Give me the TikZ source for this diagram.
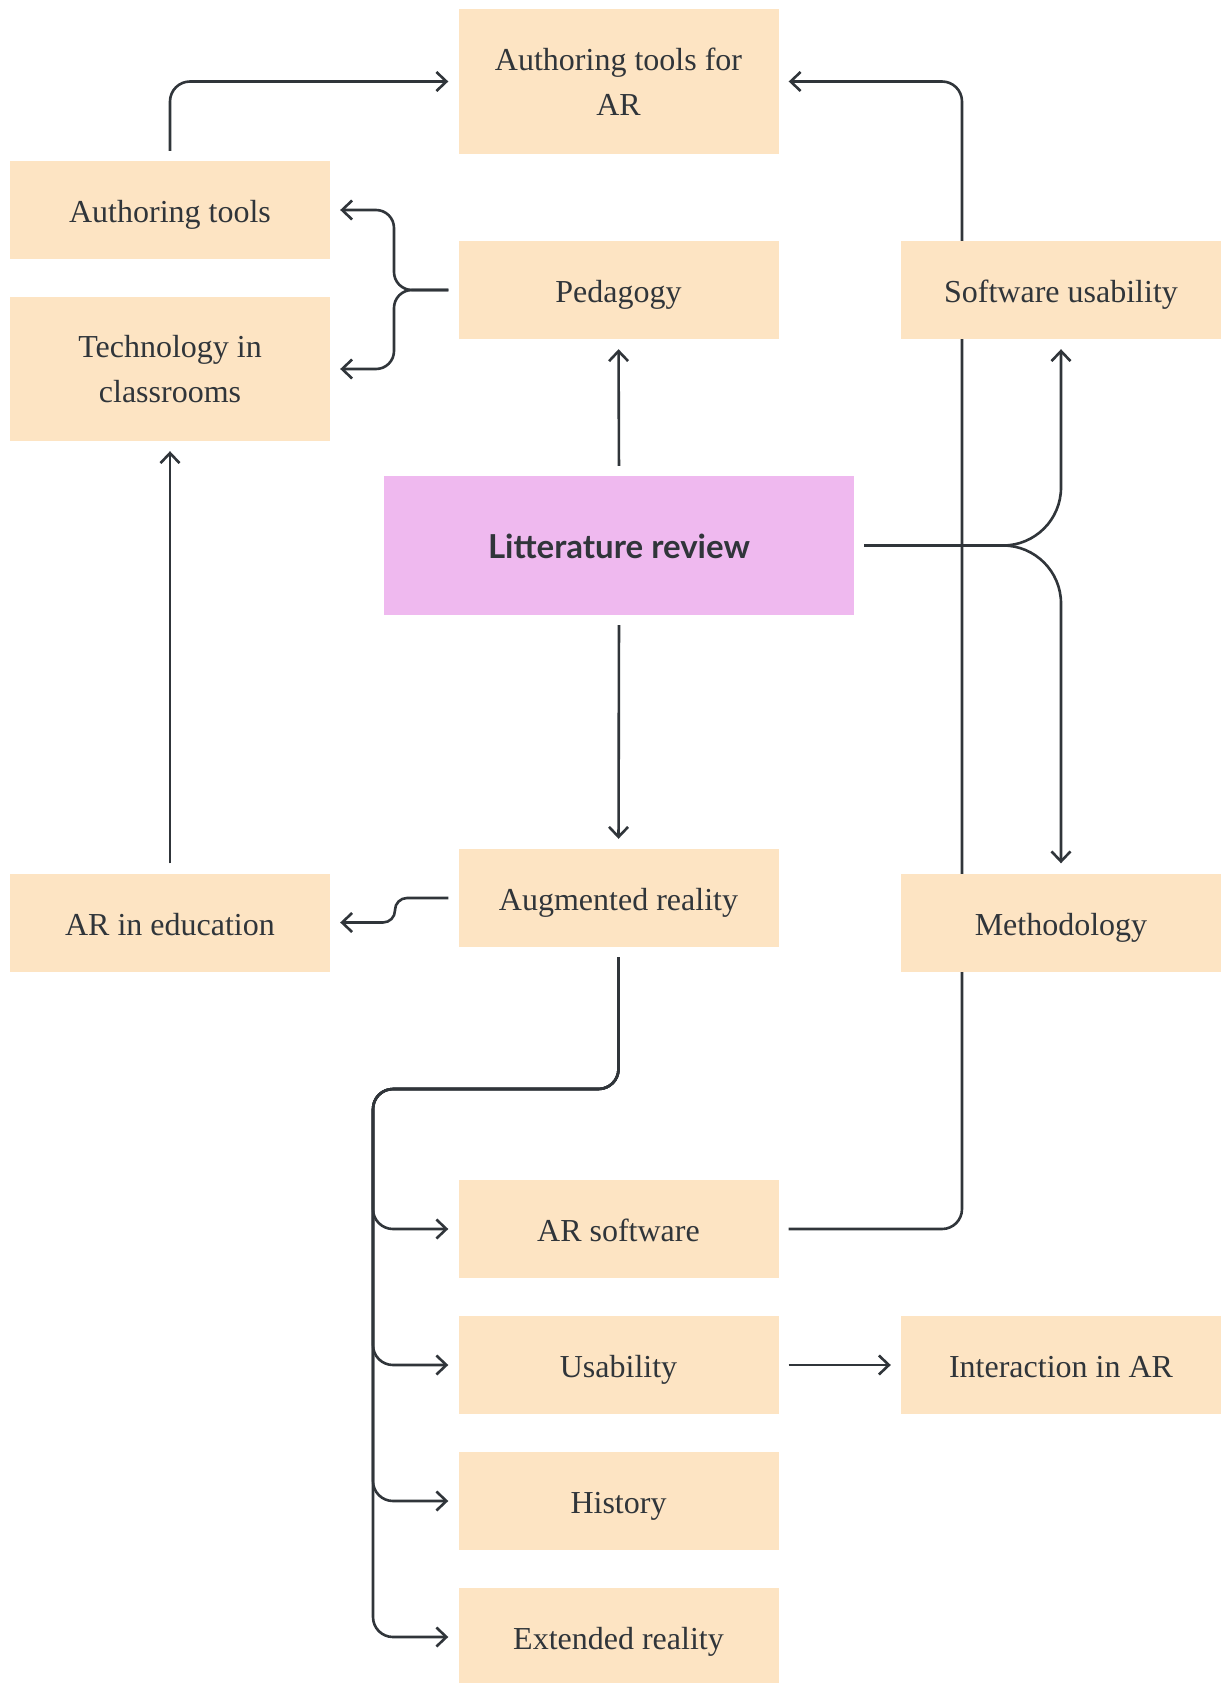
\documentclass[tikz,border=0pt]{standalone}
\usepackage{fontspec}
\setmainfont{Liberation Serif}
\newfontfamily\reviewfont{Lato}
\usetikzlibrary{arrows.meta,backgrounds}

\definecolor{peach}{HTML}{FDE4C3}
\definecolor{orchid}{HTML}{EFB9EF}
\definecolor{ink}{HTML}{30353A}

\tikzset{
  topic/.style={fill=peach, text=ink, minimum width=320pt, minimum height=98pt,
    align=center, inner sep=0pt, text height=25pt, text depth=0pt,
    font=\fontsize{32}{45}\selectfont},
  twoline/.style={text height={}, text depth={}},
  review/.style={fill=orchid, text=ink, minimum width=470pt, minimum height=139pt,
    inner sep=0pt, text height=25pt, text depth=0pt,
    font=\reviewfont\bfseries\fontsize{33}{40}\selectfont},
  link/.style={draw=ink, line width=2.6pt, -{Straight Barb[length=10pt,width=19pt]},
    shorten >=10pt, shorten <=10pt, rounded corners=20pt},
}

\begin{document}
\begin{tikzpicture}[x=1pt, y=-1pt]
\useasboundingbox (0,0) rectangle (1221,1683);

% Topics.
\node[review] (litrev) at (619,545.5) {Litterature review};
\node[topic, twoline, minimum height=145pt] (arfor) at (618.5,81.5) {Authoring tools for\\AR};
\node[topic] (authtools) at (170,210) {Authoring tools};
\node[topic, twoline, minimum height=144pt] (techclass) at (170,369) {Technology in\\classrooms};
\node[topic] (pedagogy) at (618.5,290) {Pedagogy};
\node[topic] (softuse) at (1061,290) {Software usability};
\node[topic] (augreal) at (618.5,898) {Augmented reality};
\node[topic] (aredu) at (170,922.5) {AR in education};
\node[topic] (method) at (1061,922.5) {Methodology};
\node[topic] (arsoft) at (618.5,1229) {AR software};
\node[topic] (usab) at (618.5,1365) {Usability};
\node[topic] (interact) at (1061,1365) {Interaction in AR};
\node[topic] (history) at (618.5,1501) {History};
\node[topic] (extreal) at (618.5,1637) {Extended reality};

% Bends.
\coordinate (pedfork) at (394,290);
\coordinate (edujog) at (395,898);
\coordinate (treeknee) at (373,1089);
\coordinate (rightrail) at (962,81.5);

% Draw links.
\begin{pgfonlayer}{background}
\draw[link] (authtools.north) |- (arfor.west);
\draw[link] (arsoft.east) -| (rightrail) -- (arfor.east);

\draw[link, rounded corners=18pt] (pedagogy.west) -- (pedfork) |- (authtools.east);
\draw[link, rounded corners=18pt] (pedagogy.west) -- (pedfork) |- (techclass.east);

\draw[link] (litrev.north) -- (pedagogy.south);
\draw[link] (litrev.south) -- (augreal.north);
\draw[link, rounded corners=58pt] (litrev.east) -| (softuse.south);
\draw[link, rounded corners=58pt] (litrev.east) -| (method.north);

\draw[link, rounded corners=12pt] (augreal.west) -- (edujog) |- (aredu.east);
\draw[link] (aredu.north) -- (techclass.south);

\draw[link] (augreal.south) |- (treeknee) |- (arsoft.west);
\draw[link] (augreal.south) |- (treeknee) |- (usab.west);
\draw[link] (augreal.south) |- (treeknee) |- (history.west);
\draw[link] (augreal.south) |- (treeknee) |- (extreal.west);

\draw[link] (usab.east) -- (interact.west);
\end{pgfonlayer}
\end{tikzpicture}
\end{document}
